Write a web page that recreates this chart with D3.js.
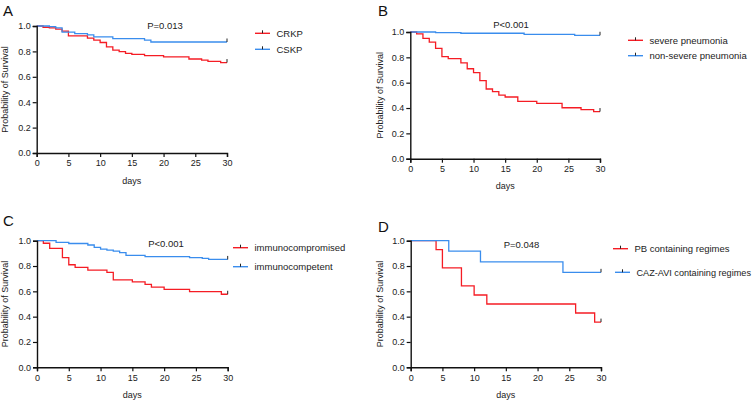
<!DOCTYPE html>
<html>
<head>
<meta charset="utf-8">
<script src="https://cdn.jsdelivr.net/npm/d3@7"></script>
<style>
  body { margin: 0; background: #fff; }
  svg { display: block; font-family: Arial, "Liberation Sans", sans-serif; }
</style>
</head>
<body>
<svg id="chart" width="753" height="401"></svg>
<script>
// tick values shared by all four panels
var dayTicks = [0, 5, 10, 15, 20, 25, 30];
var survTicks = [0, 0.2, 0.4, 0.6, 0.8, 1.0];

// Kaplan-Meier steps: [day, survival]
var crkp = [[0, 1], [1, 0.99], [2, 0.985], [3, 0.975], [4, 0.96], [5, 0.923], [8, 0.905],
            [9, 0.888], [10, 0.87], [11, 0.836], [12, 0.81], [13, 0.798], [14, 0.785],
            [15, 0.776], [17, 0.766], [20, 0.757], [24, 0.74], [26, 0.731], [27, 0.721],
            [29, 0.712]];
var cskp = [[0, 1], [2, 0.995], [3, 0.985], [4, 0.952], [6, 0.94], [8, 0.93], [9, 0.915],
            [12, 0.9], [17, 0.888], [18, 0.874]];

var severe = [[0, 1], [1, 0.985], [2, 0.95], [3, 0.92], [4, 0.87], [5, 0.805], [6, 0.79],
              [8, 0.757], [9, 0.71], [10, 0.68], [11, 0.616], [12, 0.55], [13, 0.53],
              [14, 0.502], [15, 0.487], [17, 0.453], [20, 0.437], [24, 0.402], [27, 0.388],
              [29, 0.372]];
var nonSevere = [[0, 1], [4, 0.995], [8, 0.99], [18, 0.982], [26, 0.974]];

var compromised = [[0, 1], [1, 0.98], [2, 0.94], [4, 0.866], [5, 0.81], [6, 0.79],
                   [8, 0.768], [11, 0.75], [12, 0.69], [15, 0.674], [17, 0.655],
                   [18, 0.634], [20, 0.616], [24, 0.597], [29, 0.577]];
var competent = [[0, 1], [3, 0.987], [5, 0.978], [8, 0.966], [9, 0.947], [10, 0.934],
                 [11, 0.926], [12, 0.917], [13, 0.906], [14, 0.884], [17, 0.875],
                 [24, 0.866], [26, 0.86], [27, 0.852]];

var pbRegime = [[0, 1], [4, 0.929], [5, 0.786], [8, 0.643], [10, 0.571], [12, 0.5],
                [26, 0.429], [29, 0.357]];
var cazRegime = [[0, 1], [6, 0.917], [11, 0.833], [24, 0.75]];

var red = '#f51c24';
var blue = '#3a8ded';

// panel layout (pixel boxes of each plot area)
var panels = [
    { letter: 'A', lx: 3, ly: 15.5, left: 36.7, right: 227, top: 26, bottom: 153,
      p: 'P=0.013', px: 165, py: 29,
      series: [{ name: 'CRKP', data: crkp, color: red },
               { name: 'CSKP', data: cskp, color: blue }],
      legend: [{ x: 255, y: 33.3 }, { x: 255, y: 49.3 }] },
    { letter: 'B', lx: 378, ly: 15.5, left: 410.3, right: 600, top: 32, bottom: 158.7,
      p: 'P<0.001', px: 511, py: 27.5,
      series: [{ name: 'severe pneumonia', data: severe, color: red },
               { name: 'non-severe pneumonia', data: nonSevere, color: blue }],
      legend: [{ x: 628, y: 40.3 }, { x: 628, y: 55.7 }] },
    { letter: 'C', lx: 3, ly: 225.5, left: 37, right: 227.7, top: 240.7, bottom: 367.3,
      p: 'P<0.001', px: 166, py: 247,
      series: [{ name: 'immunocompromised', data: compromised, color: red },
               { name: 'immunocompetent', data: competent, color: blue }],
      legend: [{ x: 233, y: 247.7 }, { x: 233, y: 266.7 }] },
    { letter: 'D', lx: 378, ly: 232, left: 410.7, right: 601, top: 240.7, bottom: 367.3,
      p: 'P=0.048', px: 521.5, py: 247.5,
      series: [{ name: 'PB containing regimes', data: pbRegime, color: red },
               { name: 'CAZ-AVI containing regimes', data: cazRegime, color: blue }],
      legend: [{ x: 613, y: 248.7 }, { x: 615, y: 272.3 }] }
];

var svg = d3.select('#chart');
var svgWidth = +svg.attr('width');

panels.forEach(function(panel) {
    var x = d3.scaleLinear().domain([0, 30]).range([panel.left, panel.right]);
    var y = d3.scaleLinear().domain([0, 1]).range([panel.bottom, panel.top]);
    var g = svg.append('g');

    // panel letter
    g.append('text')
        .attr('x', panel.lx)
        .attr('y', panel.ly)
        .attr('font-size', 15)
        .attr('fill', '#111')
        .text(panel.letter);

    // survival curves, extended to day 30
    var line = d3.line()
        .x(function(d) { return x(d[0]); })
        .y(function(d) { return y(d[1]); })
        .curve(d3.curveStepAfter);

    panel.series.forEach(function(s) {
        var last = s.data[s.data.length - 1];
        var pts = s.data.concat([[30, last[1]]]);
        g.append('path')
            .datum(pts)
            .attr('fill', 'none')
            .attr('stroke', s.color)
            .attr('stroke-width', 1.3)
            .attr('d', line);

        // censor mark at the end
        g.append('line')
            .attr('x1', x(30)).attr('x2', x(30))
            .attr('y1', y(last[1])).attr('y2', y(last[1]) - 3.5)
            .attr('stroke', '#222')
            .attr('stroke-width', 1);
    });

    // axes
    var xAxis = g.append('g')
        .attr('transform', 'translate(0,' + panel.bottom + ')')
        .call(d3.axisBottom(x).tickValues(dayTicks).tickSize(4).tickPadding(3)
              .tickFormat(d3.format('d')));
    var yAxis = g.append('g')
        .attr('transform', 'translate(' + panel.left + ',0)')
        .call(d3.axisLeft(y).tickValues(survTicks).tickSize(4).tickPadding(2)
              .tickFormat(d3.format('.1f')));

    [xAxis, yAxis].forEach(function(ax) {
        ax.select('.domain').attr('stroke', '#111').attr('stroke-width', 1.4);
        ax.selectAll('.tick line').attr('stroke', '#111').attr('stroke-width', 1.2);
        ax.selectAll('.tick text')
            .attr('font-size', 9)
            .attr('fill', '#222')
            .attr('font-family', 'Arial, "Liberation Sans", sans-serif');
    });

    // axis titles
    g.append('text')
        .attr('x', (panel.left + panel.right) / 2)
        .attr('y', panel.bottom + 30.5)
        .attr('text-anchor', 'middle')
        .attr('font-size', 9)
        .attr('fill', '#222')
        .text('days');

    g.append('text')
        .attr('transform', 'translate(' + (panel.lx + 5) + ',' +
              ((panel.top + panel.bottom) / 2) + ') rotate(-90)')
        .attr('text-anchor', 'middle')
        .attr('font-size', 9)
        .attr('fill', '#222')
        .text('Probability of Survival');

    // p value
    g.append('text')
        .attr('x', panel.px)
        .attr('y', panel.py)
        .attr('text-anchor', 'middle')
        .attr('font-size', 9.5)
        .attr('fill', '#222')
        .text(panel.p);

    // legend
    panel.series.forEach(function(s, i) {
        var pos = panel.legend[i];
        g.append('line')
            .attr('x1', pos.x).attr('x2', pos.x + 15)
            .attr('y1', pos.y).attr('y2', pos.y)
            .attr('stroke', s.color)
            .attr('stroke-width', 1.4);
        g.append('line')
            .attr('x1', pos.x + 7.5).attr('x2', pos.x + 7.5)
            .attr('y1', pos.y).attr('y2', pos.y - 3)
            .attr('stroke', '#222')
            .attr('stroke-width', 1);
        var label = g.append('text')
            .attr('x', pos.x + 21.5)
            .attr('y', pos.y + 3.3)
            .attr('font-size', 9.5)
            .attr('fill', '#222')
            .text(s.name);

        // shrink a label that would run past the right edge
        var box = label.node().getBBox();
        var room = svgWidth - 1.5 - (pos.x + 21.5);
        if (box.width > room) {
            label.attr('font-size', 9.5 * room / box.width);
        }
    });
});
</script>
</body>
</html>
